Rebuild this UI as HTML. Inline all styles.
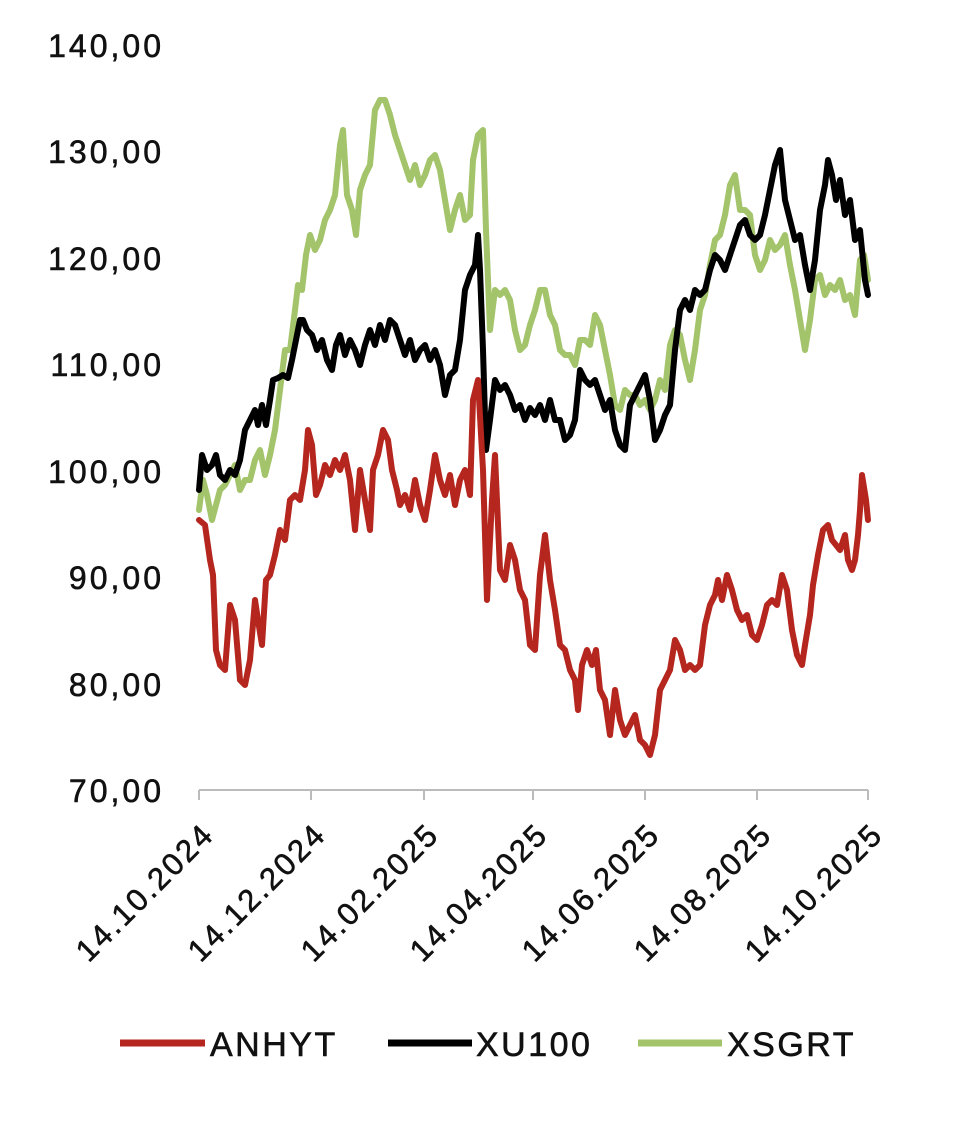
<!DOCTYPE html>
<html><head><meta charset="utf-8"><style>
html,body{margin:0;padding:0;background:#fff;}
svg{display:block;}
text{font-family:"Liberation Sans",sans-serif;fill:#111;stroke:#111;stroke-width:0.6;}
</style></head><body>
<svg width="960" height="1122" viewBox="0 0 960 1122">
<g font-size="32" text-anchor="end" letter-spacing="3">
<text x="164" y="57">140,00</text>
<text x="164" y="163">130,00</text>
<text x="164" y="270">120,00</text>
<text x="164" y="376">110,00</text>
<text x="164" y="483">100,00</text>
<text x="164" y="589">90,00</text>
<text x="164" y="696">80,00</text>
<text x="164" y="802">70,00</text>
</g>
<line x1="199" y1="790" x2="868" y2="790" stroke="#bbb" stroke-width="2"/>
<g stroke="#bbb" stroke-width="2">
<line x1="199" y1="790" x2="199" y2="800"/><line x1="311" y1="790" x2="311" y2="800"/><line x1="424" y1="790" x2="424" y2="800"/><line x1="533" y1="790" x2="533" y2="800"/><line x1="645" y1="790" x2="645" y2="800"/><line x1="757" y1="790" x2="757" y2="800"/><line x1="868" y1="790" x2="868" y2="800"/>
</g>
<g font-size="31" text-anchor="end" letter-spacing="2.5">
<text transform="translate(216,836) rotate(-45)">14.10.2024</text>
<text transform="translate(328,836) rotate(-45)">14.12.2024</text>
<text transform="translate(441,836) rotate(-45)">14.02.2025</text>
<text transform="translate(550,836) rotate(-45)">14.04.2025</text>
<text transform="translate(662,836) rotate(-45)">14.06.2025</text>
<text transform="translate(774,836) rotate(-45)">14.08.2025</text>
<text transform="translate(885,836) rotate(-45)">14.10.2025</text>
</g>
<g fill="none" stroke-width="6" stroke-linejoin="round" stroke-linecap="round">
<polyline stroke="#a3c46a" points="199,510 203,480 207,495 212,520 216,505 220,490 225,485 230,475 235,465 240,490 245,480 250,480 255,460 260,450 265,475 270,455 275,430 280,390 285,350 290,350 295,310 298,285 302,290 306,255 310,235 315,250 320,240 325,220 330,210 335,195 340,145 343,130 347,195 352,210 356,235 360,190 365,175 370,165 375,110 380,100 385,100 390,115 395,135 400,150 405,165 410,180 415,165 420,185 425,175 430,160 435,155 440,170 445,200 450,230 455,210 460,195 465,220 470,215 473,160 478,135 483,130 486,230 490,330 495,290 500,295 505,290 510,300 515,330 520,350 525,345 530,325 535,310 540,290 545,290 550,315 555,325 560,350 565,355 570,355 575,365 580,340 585,340 590,345 595,315 600,325 605,350 610,375 615,405 620,410 625,390 630,395 635,395 640,405 645,400 650,410 655,400 660,380 665,390 670,345 675,330 680,335 685,360 690,380 695,350 700,310 705,295 710,265 715,240 720,235 725,215 730,185 735,175 740,210 745,210 750,215 755,255 760,270 765,260 770,240 775,250 780,245 785,235 790,265 795,290 800,320 805,350 810,320 815,280 820,275 825,295 830,285 835,290 840,280 845,300 850,295 855,315 860,260 864,255 868,280"/>
<polyline stroke="#000" points="199,490 202,455 207,470 212,465 216,455 220,475 225,480 230,470 235,475 240,460 245,430 250,420 255,410 258,425 262,405 266,425 270,400 273,380 278,378 283,375 288,378 292,360 296,340 300,320 303,320 307,330 312,335 317,350 322,340 327,360 332,370 336,345 340,335 345,355 350,340 355,350 360,365 365,345 370,330 375,345 380,325 385,340 390,320 395,325 400,340 405,355 410,340 415,360 420,350 425,345 430,360 435,350 440,365 445,395 450,375 455,370 460,340 465,290 470,275 475,265 478,235 480,270 483,350 486,450 490,420 495,380 500,390 505,385 510,395 515,410 520,405 525,420 530,408 535,415 540,405 545,420 550,400 555,420 560,420 565,440 570,435 575,420 580,370 585,380 590,385 595,380 600,395 605,410 610,400 615,430 620,445 625,450 630,405 635,395 640,385 645,375 650,400 655,440 660,430 665,415 670,405 675,350 680,310 685,300 690,310 695,290 700,295 705,290 710,270 715,255 720,260 725,270 730,255 735,240 740,225 745,220 750,235 755,240 760,235 765,215 770,190 775,165 780,150 785,200 790,220 795,240 800,235 805,265 810,290 815,260 820,210 825,185 828,160 832,175 836,200 840,180 845,215 850,200 855,240 860,230 865,280 868,295"/>
<polyline stroke="#b5261e" points="199,520 205,525 210,560 213,575 216,650 220,665 225,670 230,605 235,620 240,680 245,685 250,660 255,600 258,620 262,645 266,580 270,575 275,555 280,530 285,540 290,500 295,495 300,500 305,470 308,430 312,445 316,495 320,485 325,465 330,475 335,460 340,470 345,455 350,480 355,530 360,470 365,500 370,530 373,470 378,455 383,430 388,440 392,470 397,490 400,505 405,495 410,510 415,480 420,505 425,520 430,490 435,455 440,480 445,495 450,475 455,505 460,480 465,470 470,495 473,400 478,380 483,470 487,600 492,500 495,455 500,570 505,580 510,545 515,560 520,590 525,600 530,645 535,650 540,575 545,535 550,580 555,610 560,645 565,650 570,670 575,680 578,710 582,665 587,650 592,665 596,650 600,690 605,700 610,735 615,690 620,720 625,735 630,725 635,715 640,740 645,745 650,755 655,735 660,690 665,680 670,670 675,640 680,650 685,670 690,665 695,670 700,665 705,625 710,605 715,595 718,580 722,600 727,575 732,590 737,610 742,620 747,615 752,635 757,640 762,625 767,605 772,600 777,605 782,575 787,590 792,630 797,655 802,665 805,645 810,615 813,585 818,555 823,530 828,525 832,540 836,545 840,550 845,535 848,560 852,570 855,560 858,535 860,510 862,475 866,500 868,520"/>
</g>
<g stroke-width="7">
<line x1="120" y1="1043" x2="205" y2="1043" stroke="#b5261e"/>
<line x1="388" y1="1043" x2="472" y2="1043" stroke="#000"/>
<line x1="638" y1="1043" x2="722" y2="1043" stroke="#a3c46a"/>
</g>
<g font-size="34" letter-spacing="2.5">
<text x="210" y="1056">ANHYT</text>
<text x="476" y="1056">XU100</text>
<text x="727" y="1056">XSGRT</text>
</g>
</svg>
</body></html>
